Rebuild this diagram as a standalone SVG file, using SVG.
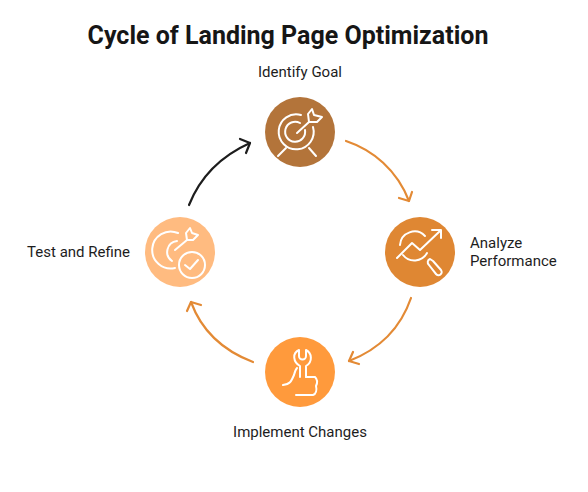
<svg xmlns="http://www.w3.org/2000/svg" width="588" height="492" viewBox="0 0 588 492">
<style>
.t{font-family:Roboto,"Liberation Sans",sans-serif;font-size:15px;fill:#1d1d1d}
.title{font-family:Roboto,"Liberation Sans",sans-serif;font-size:25px;font-weight:700;fill:#161616}
.i{fill:none;stroke:#fff;stroke-width:2;stroke-linecap:round;stroke-linejoin:round}
.c{fill:none;stroke-width:2.2;stroke-linecap:round;stroke-linejoin:round}
</style>
<rect width="588" height="492" fill="#fff"/>
<text class="title" x="288" y="44" text-anchor="middle">Cycle of Landing Page Optimization</text>
<g id="connectors">
<g class="c" stroke="#e38a35">
<path d="M346 141C373 150 397 170 409 201"/>
<path d="M399 198L409 201L412 192"/>
<path d="M411 298C401 327 380 349 349 361"/>
<path d="M353 352L349 361L359 364"/>
<path d="M253 362C224 351 202 332 191 302"/>
<path d="M187 311L191 302L201 305"/>
</g>
<g class="c" stroke="#1d1d1d">
<path d="M189 205C201 175 221 156 250 143"/>
<path d="M240 139L250 143L246 153"/>
</g>
</g>
<g id="node-identify-goal">
<circle cx="300" cy="132" r="35" fill="#b3743a"/>
<g class="i">
<path d="M301 115A17.5 17.5 0 1 0 313 127"/>
<path d="M300 123A10 10 0 1 0 305 130"/>
<path d="M297 133L309 122"/>
<path d="M309 122L308 114L312 109L314 115L322 117L317 122Z"/>
<path d="M286 148L278 156M309 148L316 156"/>
</g>
</g>
<g id="node-analyze-performance">
<circle cx="420" cy="252" r="35" fill="#df8733"/>
<g class="i">
<path d="M400 245A14.5 14.5 0 0 1 425 236"/>
<path d="M403 255A14.5 14.5 0 0 0 427 253"/>
<path d="M397 258L412 243L420 250L440 231"/>
<path d="M432 230L441 230L441 238"/>
<path d="M430 259L433 261L441 270A3 3 0 0 1 436 274L429 265A3.5 3.5 0 0 1 430 259Z"/>
</g>
</g>
<g id="node-implement-changes">
<circle cx="300" cy="372" r="35" fill="#ff9a3c"/>
<g class="i">
<path d="M299 350L299 356A3.5 3.5 0 0 0 306 356L306 350C312 353 313 362 306 366L306 377M300 377L300 366C293 362 292 353 299 350"/>
<path d="M283 385C290 384 291 382 294 375C295 371 296 369 297 368"/>
<path d="M306 377L315 377C318 380 317 384 316 386C317 390 316 394 313 395L296 395"/>
</g>
</g>
<g id="node-test-and-refine">
<circle cx="180" cy="252" r="35" fill="#ffbb80"/>
<g class="i">
<path d="M178 233A18.5 18.5 0 1 0 175 268"/>
<path d="M177 241A11 11 0 0 0 172 261"/>
<path d="M175 250L187 240"/>
<path d="M187 240L186 233L190 228L192 233L198 235L193 240Z"/>
<circle cx="192" cy="265" r="13"/>
<path d="M185 265L190 269L198 260"/>
</g>
</g>
<text class="t" x="300" y="77" text-anchor="middle">Identify Goal</text>
<text class="t" x="470" y="248">Analyze</text>
<text class="t" x="470" y="266">Performance</text>
<text class="t" x="300" y="437" text-anchor="middle">Implement Changes</text>
<text class="t" x="130" y="257" text-anchor="end">Test and Refine</text>
</svg>
